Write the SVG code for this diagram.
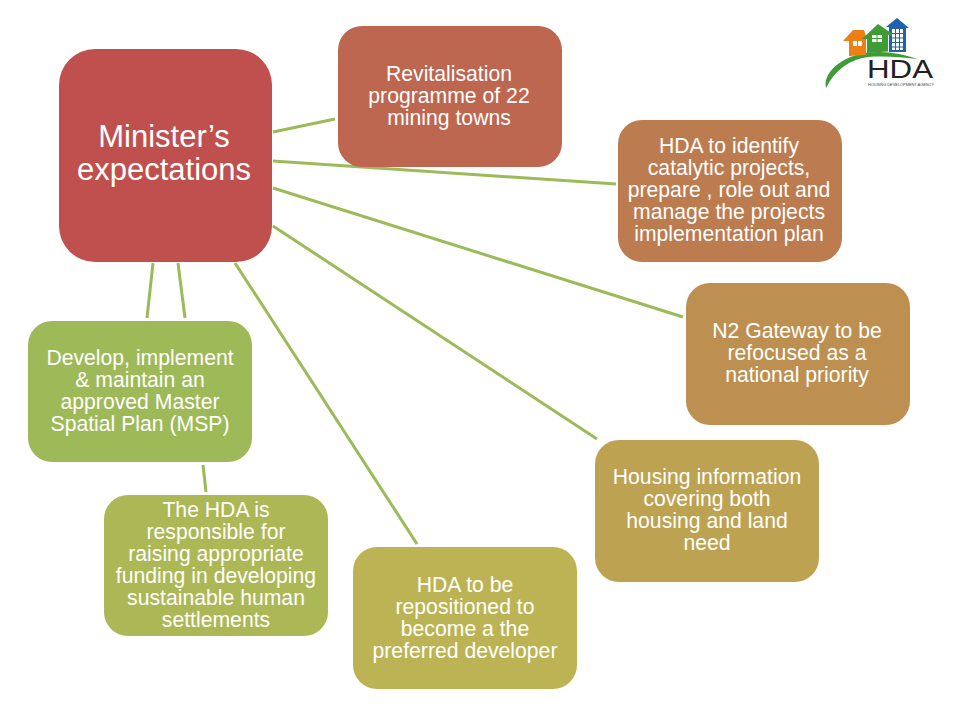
<svg xmlns="http://www.w3.org/2000/svg" width="960" height="720" viewBox="0 0 960 720">
<style>
.n text{font-family:"Liberation Sans",Arial,sans-serif;font-size:21.2px;fill:#fff;text-anchor:middle}
#c line{stroke:#9bbb59;stroke-width:3;fill:none}
</style>
<rect width="960" height="720" fill="#fff"/>
<g id="c">
<line x1="273" y1="132" x2="335" y2="119"/>
<line x1="273" y1="161" x2="616" y2="184"/>
<line x1="273" y1="188" x2="683" y2="317"/>
<line x1="273" y1="226" x2="597" y2="439"/>
<line x1="235" y1="263" x2="417" y2="544"/>
<line x1="178" y1="263" x2="185" y2="318"/>
<line x1="153" y1="263" x2="147" y2="318"/>
<line x1="203" y1="465" x2="206" y2="492"/>
</g>
<g id="n0" class="n"><rect x="59" y="49" width="213" height="213" rx="36" fill="#c0504d"/>
<text x="164" y="147" style="font-size:31px">Minister’s</text><text x="164" y="180" style="font-size:31px">expectations</text></g>
<g id="n1" class="n"><rect x="338" y="26" width="224" height="141" rx="24" fill="#bd6650"/>
<text x="449" y="81">Revitalisation</text><text x="449" y="103">programme of 22</text><text x="449" y="125">mining towns</text></g>
<g id="n2" class="n"><rect x="618" y="120" width="224" height="142" rx="24" fill="#bd7b50"/>
<text x="729" y="153">HDA to identify</text><text x="729" y="175">catalytic projects,</text><text x="729" y="197">prepare , role out and</text><text x="729" y="219">manage the projects</text><text x="729" y="241">implementation plan</text></g>
<g id="n3" class="n"><rect x="686" y="283" width="224" height="142" rx="24" fill="#bd8f50"/>
<text x="797" y="338">N2 Gateway to be</text><text x="797" y="360">refocused as a</text><text x="797" y="382">national priority</text></g>
<g id="n4" class="n"><rect x="595" y="440" width="224" height="142" rx="24" fill="#bda251"/>
<text x="707" y="484">Housing information</text><text x="707" y="506">covering both</text><text x="707" y="528">housing and land</text><text x="707" y="550">need</text></g>
<g id="n5" class="n"><rect x="353" y="547" width="224" height="142" rx="24" fill="#bcb454"/>
<text x="465" y="592">HDA to be</text><text x="465" y="614">repositioned to</text><text x="465" y="636">become a the</text><text x="465" y="658">preferred developer</text></g>
<g id="n6" class="n"><rect x="104" y="495" width="224" height="141" rx="24" fill="#acb855"/>
<text x="216" y="517">The HDA is</text><text x="216" y="539">responsible for</text><text x="216" y="561">raising appropriate</text><text x="216" y="583">funding in developing</text><text x="216" y="605">sustainable human</text><text x="216" y="627">settlements</text></g>
<g id="n7" class="n"><rect x="28" y="321" width="224" height="141" rx="24" fill="#9eba58"/>
<text x="140" y="365">Develop, implement</text><text x="140" y="387">&amp; maintain an</text><text x="140" y="409">approved Master</text><text x="140" y="431">Spatial Plan (MSP)</text></g>
<g id="logo">
<path d="M826 88C822 70 848 51 880 52C892 52 906 55 917 59C900 57 885 56 868 57C850 59 835 70 826 88Z" fill="#3f9b35"/>
<path d="M843 41L853 30H864L866 36V55L849 56V41Z" fill="#ee7f14"/>
<path d="M897 18L909 28H906V52H889V27H886Z" fill="#1f63ad"/>
<path d="M878 24L894 35H888V51.500L867 53V39H862Z" fill="#3f9b35"/>
<g fill="#fff"><rect x="853" y="41" width="9" height="5"/><rect x="872" y="35" width="10" height="7"/><rect x="892" y="29" width="11" height="21"/></g>
<g stroke="#1f63ad" stroke-width="1"><path d="M892 33.500H903M892 38H903M892 42.500H903M892 47H903M895.500 29V50M899.500 29V50" fill="none"/></g>
<g stroke="#3f9b35" stroke-width="1"><path d="M877 35V42M872 38.500H882M857.500 41V46" fill="none"/></g>
<path d="M857.500 41V46" stroke="#ee7f14" stroke-width="1"/>
<text x="867" y="78" font-family="'Liberation Sans',Arial,sans-serif" font-size="25" fill="#222" textLength="66" lengthAdjust="spacingAndGlyphs">HDA</text>
<text x="868" y="86" font-family="'Liberation Sans',Arial,sans-serif" font-size="4" fill="#444" textLength="66" lengthAdjust="spacingAndGlyphs">HOUSING DEVELOPMENT AGENCY</text>
</g>
</svg>
